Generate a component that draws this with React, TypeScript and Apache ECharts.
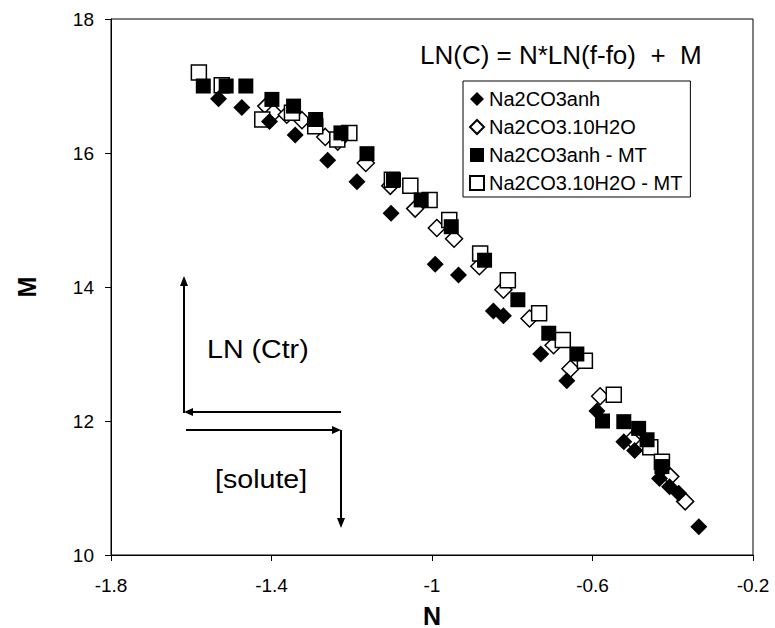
import React, { useEffect, useRef } from "react";
import * as echarts from "echarts";

const xTicks = [-1.8, -1.4, -1, -0.6, -0.2];
const yTicks = [10, 12, 14, 16, 18];

const anhN = [-1.532, -1.474, -1.405, -1.341, -1.26, -1.187, -1.102, -0.992, -0.934, -0.847, -0.822, -0.729, -0.664, -0.589, -0.522, -0.495, -0.433, -0.408, -0.385, -0.335];
const anhM = [16.81, 16.68, 16.47, 16.27, 15.89, 15.57, 15.1, 14.34, 14.18, 13.64, 13.57, 13.0, 12.6, 12.15, 11.69, 11.56, 11.14, 11.02, 10.92, 10.42];

const hydN = [-1.413, -1.395, -1.362, -1.324, -1.266, -1.235, -1.165, -1.104, -1.042, -0.988, -0.945, -0.882, -0.822, -0.757, -0.697, -0.655, -0.581, -0.502, -0.406, -0.369];
const hydM = [16.7, 16.6, 16.57, 16.49, 16.24, 16.17, 15.85, 15.51, 15.17, 14.88, 14.72, 14.31, 13.96, 13.53, 13.13, 12.78, 12.37, 11.72, 11.17, 10.8];

const anhMtN = [-1.57, -1.513, -1.464, -1.399, -1.345, -1.29, -1.227, -1.162, -1.096, -1.027, -0.952, -0.869, -0.786, -0.709, -0.639, -0.575, -0.522, -0.485, -0.464, -0.427];
const anhMtM = [17.0, 17.0, 17.0, 16.8, 16.7, 16.5, 16.3, 15.99, 15.6, 15.3, 14.9, 14.4, 13.81, 13.31, 13.0, 12.0, 11.99, 11.89, 11.72, 11.32];

const hydMtN = [-1.581, -1.524, -1.423, -1.349, -1.291, -1.236, -1.206, -1.1, -1.054, -1.006, -0.957, -0.88, -0.811, -0.733, -0.674, -0.619, -0.547, -0.456, -0.427];
const hydMtM = [17.2, 17.01, 16.5, 16.6, 16.4, 16.2, 16.3, 15.6, 15.51, 15.3, 15.0, 14.5, 14.1, 13.61, 13.21, 12.9, 12.39, 11.61, 11.39];

const seriesNames = ["Na2CO3anh", "Na2CO3.10H2O", "Na2CO3anh - MT", "Na2CO3.10H2O - MT"];

const zip = (a: number[], b: number[]) => a.map((v, i) => [v, b[i]]);

const FONT = "Liberation Sans, Arial, sans-serif";

export default function App() {
  const ref = useRef<HTMLDivElement>(null);
  useEffect(() => {
    if (!ref.current) return;
    const chart = echarts.init(ref.current, undefined, { renderer: "svg" });
    const arrow = "#000";
    chart.setOption({
      animation: false,
      backgroundColor: "#fff",
      textStyle: { fontFamily: FONT },
      grid: {
        left: 111, right: 22, top: 19, bottom: 73,
        outerBoundsMode: "none",
        containLabel: false,
        show: true, borderColor: "#000", borderWidth: 1, backgroundColor: "transparent",
      },
      xAxis: {
        type: "value", min: xTicks[0], max: xTicks[xTicks.length - 1], interval: 0.4,
        name: "N", nameLocation: "middle", nameGap: 48,
        nameTextStyle: { fontSize: 25, fontWeight: "bold", color: "#000", fontFamily: FONT },
        axisLine: { show: true, lineStyle: { color: "#000", width: 1 } },
        axisTick: { show: true, length: 6, lineStyle: { color: "#000" } },
        axisLabel: { fontSize: 19, color: "#000", margin: 21, fontFamily: FONT,
          formatter: (v: number) => String(Math.round(v * 10) / 10) },
        splitLine: { show: false },
      },
      yAxis: {
        type: "value", min: yTicks[0], max: yTicks[yTicks.length - 1], interval: 2,
        name: "M", nameLocation: "middle", nameGap: 72,
        nameTextStyle: { fontSize: 25, fontWeight: "bold", color: "#000", fontFamily: FONT },
        axisLine: { show: true, lineStyle: { color: "#000", width: 1 } },
        axisTick: { show: true, length: 6, lineStyle: { color: "#000" } },
        axisLabel: { fontSize: 19, color: "#000", margin: 17, fontFamily: FONT },
        splitLine: { show: false },
      },
      legend: {
        orient: "vertical",
        left: 463, top: 81,
        data: seriesNames,
        backgroundColor: "#fff",
        borderColor: "#000", borderWidth: 1,
        padding: [8, 8, 4, 6],
        itemGap: 8,
        itemWidth: 14, itemHeight: 14,
        textStyle: { fontSize: 20, color: "#000", fontFamily: FONT },
      },
      series: [
        {
          name: seriesNames[1], type: "scatter", symbol: "diamond", symbolSize: 17,
          data: zip(hydN, hydM),
          itemStyle: { color: "#fff", borderColor: "#000", borderWidth: 1.5, opacity: 1 },
        },
        {
          name: seriesNames[3], type: "scatter", symbol: "rect", symbolSize: 15,
          data: zip(hydMtN, hydMtM),
          itemStyle: { color: "#fff", borderColor: "#000", borderWidth: 1.5, opacity: 1 },
        },
        {
          name: seriesNames[2], type: "scatter", symbol: "rect", symbolSize: 15,
          data: zip(anhMtN, anhMtM),
          itemStyle: { color: "#000", opacity: 1 },
        },
        {
          name: seriesNames[0], type: "scatter", symbol: "diamond", symbolSize: 17,
          data: zip(anhN, anhM),
          itemStyle: { color: "#000", opacity: 1 },
        },
      ],
      graphic: [
        { type: "text", left: 420, top: 42,
          style: { text: "LN(C) = N*LN(f-fo)  +  M", fontSize: 26, fill: "#000", fontFamily: FONT } },
        { type: "text", x: 207, y: 336, scaleX: 1.1,
          style: { text: "LN (Ctr)", fontSize: 26, fill: "#000", fontFamily: FONT } },
        { type: "text", x: 215, y: 466, scaleX: 1.1,
          style: { text: "[solute]", fontSize: 26, fill: "#000", fontFamily: FONT } },
        // arrow 1: horizontal leftwards then up
        { type: "line", shape: { x1: 341, y1: 412, x2: 190, y2: 412 }, style: { stroke: arrow, lineWidth: 2 } },
        { type: "polygon", shape: { points: [[184, 412], [193, 408], [193, 416]] }, style: { fill: arrow } },
        { type: "line", shape: { x1: 184, y1: 413, x2: 184, y2: 284 }, style: { stroke: arrow, lineWidth: 2 } },
        { type: "polygon", shape: { points: [[184, 276], [180, 286], [188, 286]] }, style: { fill: arrow } },
        // arrow 2: horizontal rightwards then down
        { type: "line", shape: { x1: 186, y1: 430, x2: 334, y2: 430 }, style: { stroke: arrow, lineWidth: 2 } },
        { type: "polygon", shape: { points: [[341, 430], [332, 426], [332, 434]] }, style: { fill: arrow } },
        { type: "line", shape: { x1: 341, y1: 430, x2: 341, y2: 520 }, style: { stroke: arrow, lineWidth: 2 } },
        { type: "polygon", shape: { points: [[341, 528], [337, 518], [345, 518]] }, style: { fill: arrow } },
      ],
    });
    return () => chart.dispose();
  }, []);
  return <div ref={ref} style={{ width: 775, height: 628, position: "absolute", left: 0, top: 0 }} />;
}
